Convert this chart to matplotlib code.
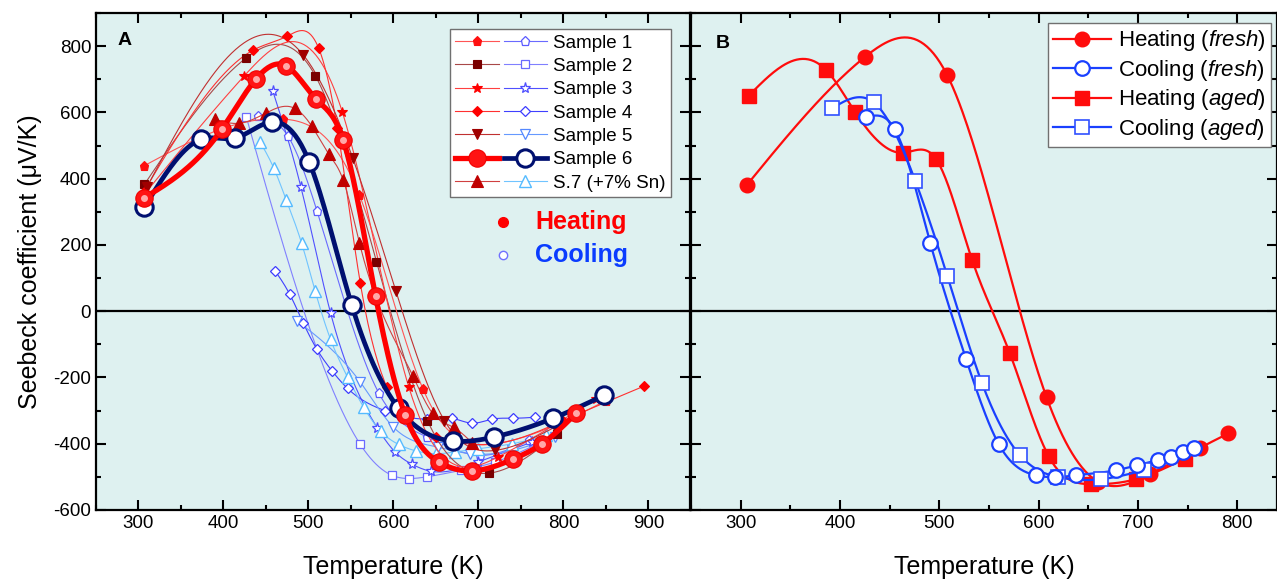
import numpy as np
import matplotlib
matplotlib.use("Agg")
import matplotlib.pyplot as plt
from matplotlib.lines import Line2D
from matplotlib.legend_handler import HandlerTuple
from matplotlib.ticker import MultipleLocator

plt.rcParams['font.family'] = ['Liberation Sans', 'DejaVu Sans']
plt.rcParams['mathtext.fontset'] = 'custom'
plt.rcParams['mathtext.rm'] = 'Liberation Sans'
plt.rcParams['mathtext.it'] = 'Liberation Sans:italic'
plt.rcParams['axes.unicode_minus'] = False

# ---- panel A data (T in K, S in uV/K) ----
s1_heat_T = [306, 470, 560, 635, 720, 850]
s1_heat_S = [438, 580, 350, -236, -400, -270]
s1_cool_T = [441, 476, 510, 583, 640, 702, 760]
s1_cool_S = [589, 528, 303, -248, -380, -435, -390]

s2_heat_T = [307, 427, 508, 580, 640, 712, 793]
s2_heat_S = [383, 765, 711, 150, -330, -489, -371]
s2_cool_T = [427, 561, 598, 618, 639, 680, 720, 770]
s2_cool_S = [585, -402, -495, -505, -500, -480, -455, -400]

s3_heat_T = [306, 424, 540, 618, 723, 838]
s3_heat_S = [350, 709, 600, -228, -440, -265]
s3_cool_T = [458, 491, 526, 581, 602, 622, 644, 700, 763]
s3_cool_S = [665, 376, -5, -352, -425, -462, -483, -455, -395]

s4_heat_T = [306, 435, 475, 512, 534, 561, 592, 650, 720, 800, 895]
s4_heat_S = [360, 788, 830, 794, 552, 85, -228, -380, -400, -330, -226]
s4_cool_T = [461, 478, 494, 510, 528, 546, 590, 640, 669, 693, 716, 741, 767]
s4_cool_S = [121, 51, -36, -115, -181, -233, -300, -325, -323, -338, -326, -323, -320]

s5_heat_T = [310, 494, 552, 603, 660, 720, 790]
s5_heat_S = [375, 773, 463, 60, -330, -420, -350]
s5_cool_T = [487, 561, 600, 652, 690, 740, 790]
s5_cool_S = [-30, -214, -350, -410, -430, -420, -380]

s6_heat_T = [306, 398, 438, 474, 509, 541, 579, 614, 654, 693, 741, 775, 815]
s6_heat_S = [341, 549, 700, 740, 640, 516, 45, -314, -456, -482, -446, -400, -308]
s6_cool_T = [307, 374, 414, 457, 501, 551, 606, 670, 718, 788, 848]
s6_cool_S = [314, 519, 523, 571, 450, 18, -293, -392, -380, -323, -254]

s7_heat_T = [390, 418, 450, 484, 504, 524, 541, 560, 623, 646, 671, 693]
s7_heat_S = [579, 567, 598, 612, 558, 474, 395, 206, -196, -308, -351, -398]
s7_cool_T = [443, 459, 474, 492, 508, 526, 546, 565, 585, 606, 627, 650, 672, 700, 740, 780]
s7_cool_S = [511, 433, 335, 205, 60, -85, -199, -290, -362, -402, -422, -430, -425, -415, -400, -375]

sample_labels = ['Sample 1', 'Sample 2', 'Sample 3', 'Sample 4', 'Sample 5',
                 'Sample 6', 'S.7 (+7% Sn)']

# ---- panel B data ----
hf_T = [306, 425, 508, 608, 660, 712, 762, 791]
hf_S = [380, 767, 712, -260, -515, -492, -413, -369]
cf_T = [426, 455, 491, 527, 560, 597, 616, 638, 678, 699, 720, 733, 745, 756]
cf_S = [585, 550, 205, -145, -402, -495, -501, -495, -480, -465, -450, -441, -425, -414]
ha_T = [308, 386, 415, 463, 497, 533, 571, 610, 653, 698, 747]
ha_S = [650, 728, 602, 478, 458, 155, -127, -437, -522, -507, -445]
ca_T = [392, 434, 476, 508, 543, 581, 620, 663, 706]
ca_S = [612, 630, 392, 107, -217, -434, -501, -507, -480]

BG = '#def1f0'


def spline(x, y, n=300):
    x = np.asarray(x, float)
    y = np.asarray(y, float)
    m = len(x)
    h = np.diff(x)
    A = np.zeros((m, m))
    b = np.zeros(m)
    A[0, 0] = A[-1, -1] = 1
    for i in range(1, m - 1):
        A[i, i - 1] = h[i - 1]
        A[i, i] = 2 * (h[i - 1] + h[i])
        A[i, i + 1] = h[i]
        b[i] = 3 * ((y[i + 1] - y[i]) / h[i] - (y[i] - y[i - 1]) / h[i - 1])
    c = np.linalg.solve(A, b)
    xs = np.linspace(x[0], x[-1], n)
    idx = np.clip(np.searchsorted(x, xs) - 1, 0, m - 2)
    dx = xs - x[idx]
    bc = (y[1:] - y[:-1]) / h - h * (2 * c[:-1] + c[1:]) / 3
    d = (c[1:] - c[:-1]) / (3 * h)
    return xs, y[idx] + bc[idx] * dx + c[idx] * dx ** 2 + d[idx] * dx ** 3


def draw(ax, T, S, lc, lw, marker, ms, mfc, mec, mew=1.0, z=3):
    xs, ys = spline(T, S)
    ax.plot(xs, ys, color=lc, lw=lw, zorder=z)
    ax.plot(T, S, ls='none', marker=marker, ms=ms, mfc=mfc, mec=mec, mew=mew,
            zorder=z + 0.5)
    return Line2D([], [], color=lc, lw=lw, marker=marker, ms=ms, mfc=mfc,
                  mec=mec, mew=mew)


def style_axes(ax, xmax):
    ax.set_facecolor(BG)
    ax.set_xlim(250, xmax)
    ax.set_ylim(-600, 900)
    ax.xaxis.set_major_locator(MultipleLocator(100))
    ax.xaxis.set_minor_locator(MultipleLocator(50))
    ax.yaxis.set_major_locator(MultipleLocator(200))
    ax.yaxis.set_minor_locator(MultipleLocator(100))
    ax.tick_params(which='both', direction='in', top=True, right=True,
                   width=1.5, labelsize=13.5)
    ax.tick_params(which='major', length=7)
    ax.tick_params(which='minor', length=3.5)
    for sp in ax.spines.values():
        sp.set_linewidth(1.6)
    ax.axhline(0, color='black', lw=1.6, zorder=2)
    ax.set_xlabel('Temperature (K)', fontsize=18, labelpad=17)


fig = plt.figure(figsize=(12.77, 5.82), dpi=100)
axA = fig.add_axes([96 / 1277, 72 / 582, 594 / 1277, 497 / 582])
axB = fig.add_axes([691 / 1277, 72 / 582, 586 / 1277, 497 / 582])
style_axes(axA, 949)
style_axes(axB, 840)
axB.tick_params(labelleft=False)
axA.set_ylabel('Seebeck coefficient (\u03bcV/K)', fontsize=18, labelpad=8)

# ---- panel A ----
thin = 0.8
heat_styles = [
    (s1_heat_T, s1_heat_S, '#ff5555', 'p', 6.5, '#ff1010'),
    (s2_heat_T, s2_heat_S, '#a84848', 's', 5.5, '#7a0000'),
    (s3_heat_T, s3_heat_S, '#ff4040', '*', 7.5, '#ff0000'),
    (s4_heat_T, s4_heat_S, '#ff3030', 'D', 5.5, '#ff0000'),
    (s5_heat_T, s5_heat_S, '#c03030', 'v', 6.5, '#a00000'),
]
cool_styles = [
    (s1_cool_T, s1_cool_S, '#6a6aff', 'p', 6.5, '#5a5aff'),
    (s2_cool_T, s2_cool_S, '#8080ff', 's', 6, '#6a6aff'),
    (s3_cool_T, s3_cool_S, '#5050ff', '*', 8, '#4d4dff'),
    (s4_cool_T, s4_cool_S, '#4040ff', 'D', 5.5, '#3b3bff'),
    (s5_cool_T, s5_cool_S, '#6699ff', 'v', 7, '#5588ff'),
]

handles = []
for (hT, hS, hl, mk, ms, hm), (cT, cS, cl, cmk, cms, cm) in zip(heat_styles, cool_styles):
    ch = draw(axA, cT, cS, cl, thin, cmk, cms, 'white', cm, 0.9, z=3)
    hh = draw(axA, hT, hS, hl, thin, mk, ms, hm, hm, 0.8, z=4)
    handles.append((hh, ch))

c7 = draw(axA, s7_cool_T, s7_cool_S, '#70c4ff', thin, '^', 9, 'white', '#55bbff', 1.0, z=3)
h7 = draw(axA, s7_heat_T, s7_heat_S, '#d04040', thin, '^', 8.5, '#c00000', '#c00000', 0.8, z=4)

navy = '#001070'
c6 = draw(axA, s6_cool_T, s6_cool_S, navy, 3.4, 'o', 12.5, 'white', navy, 2.2, z=6)
h6 = draw(axA, s6_heat_T, s6_heat_S, '#ff0000', 3.8, 'o', 12.5, '#ff1414', '#f00000', 0.8, z=7)
axA.plot(s6_heat_T, s6_heat_S, ls='none', marker='o', ms=5, mfc='#ffc4c4',
         mec='none', alpha=0.85, zorder=8)
handles.append((h6, c6))
handles.append((h7, c7))

legA = axA.legend(handles, sample_labels, loc='upper right',
                  bbox_to_anchor=(0.968, 0.968), borderaxespad=0,
                  handler_map={tuple: HandlerTuple(ndivide=None, pad=0.25)},
                  handlelength=4.9, numpoints=1, fontsize=13.5,
                  fancybox=False, framealpha=1, edgecolor='#707070',
                  labelspacing=0.33, handletextpad=0.3, borderpad=0.3)
legA.get_frame().set_linewidth(1.0)
legA.set_zorder(20)

axA.text(0.037, 0.962, 'A', transform=axA.transAxes, fontsize=14,
         fontweight='bold', va='top', ha='left')
axA.plot([0.685], [0.579], transform=axA.transAxes, marker='o', ms=7,
         color='#ff0000', ls='none', zorder=9)
axA.plot([0.685], [0.513], transform=axA.transAxes, marker='o', ms=6,
         mfc='white', mec='#7070ff', mew=1.0, ls='none', zorder=9)
axA.text(0.739, 0.579, 'Heating', transform=axA.transAxes, fontsize=18,
         fontweight='bold', color='#ff0000', va='center', ha='left')
axA.text(0.739, 0.513, 'Cooling', transform=axA.transAxes, fontsize=18,
         fontweight='bold', color='#0a3cff', va='center', ha='left')

# ---- panel B ----
red = '#ff0c0c'
blue = '#1a40ff'
p_hf = draw(axB, hf_T, hf_S, red, 1.6, 'o', 10.5, red, red, 1.0, z=4)
p_ha = draw(axB, ha_T, ha_S, red, 1.6, 's', 9.5, red, red, 1.0, z=4)
p_ca = draw(axB, ca_T, ca_S, blue, 1.6, 's', 9.5, 'white', '#3050ff', 1.2, z=5)
p_cf = draw(axB, cf_T, cf_S, blue, 1.6, 'o', 10.5, 'white', blue, 1.6, z=5)

legB = axB.legend([p_hf, p_cf, p_ha, p_ca],
                  ['Heating ($\\it{fresh}$)', 'Cooling ($\\it{fresh}$)',
                   'Heating ($\\it{aged}$)', 'Cooling ($\\it{aged}$)'],
                  loc='upper right', bbox_to_anchor=(0.990, 0.980),
                  borderaxespad=0, handlelength=2.6, numpoints=1, fontsize=16,
                  fancybox=False, framealpha=1, edgecolor='#707070',
                  labelspacing=0.2, handletextpad=0.3, borderpad=0.25)
legB.get_frame().set_linewidth(1.0)
legB.set_zorder(20)
axB.text(0.043, 0.956, 'B', transform=axB.transAxes, fontsize=14,
         fontweight='bold', va='top', ha='left')

fig.savefig('out.png', dpi=100)
